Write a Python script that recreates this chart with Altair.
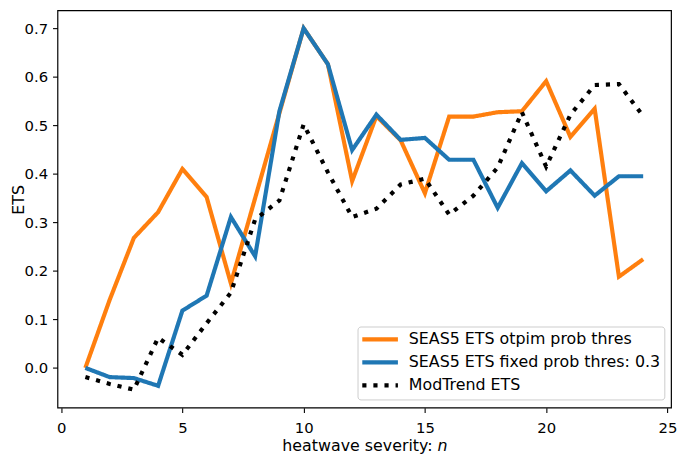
import altair as alt
import pandas as pd

x = list(range(1, 25))
seas5_optim = [0.0, 0.14, 0.268, 0.321, 0.41, 0.352, 0.174, 0.35, 0.525, 0.70, 0.626, 0.385,
               0.519, 0.469, 0.36, 0.518, 0.518, 0.527, 0.529, 0.591, 0.476, 0.534, 0.188, 0.224]
seas5_fixed = [0.0, -0.019, -0.021, -0.037, 0.118, 0.149, 0.311, 0.23, 0.529, 0.70, 0.626, 0.449,
               0.522, 0.47, 0.474, 0.429, 0.429, 0.33, 0.422, 0.364, 0.407, 0.355, 0.395, 0.395]
modtrend = [-0.019, -0.033, -0.045, 0.062, 0.027, 0.092, 0.155, 0.306, 0.345, 0.502, 0.403, 0.311,
            0.328, 0.378, 0.39, 0.316, 0.355, 0.413, 0.527, 0.415, 0.522, 0.583, 0.585, 0.519]

labels = ["SEAS5 ETS otpim prob thres", "SEAS5 ETS fixed prob thres: 0.3", "ModTrend ETS"]
colors = ["#ff7f0e", "#1f77b4", "#000000"]
dashes = [[1, 0], [1, 0], [4.2, 7]]
x_ticks = [0, 5, 10, 15, 20, 25]
y_ticks = [0.0, 0.1, 0.2, 0.3, 0.4, 0.5, 0.6, 0.7]

W, H = 620, 401.5
FONT = "DejaVu Sans"
FS = 16
TICK_FS = 15

xs = alt.Scale(domain=[-0.15, 25.15], nice=False, zero=False)
ys = alt.Scale(domain=[-0.082, 0.737], nice=False, zero=False)

series = [seas5_optim, seas5_fixed, modtrend]
layers = []
for i, vals in enumerate(series):
    df = pd.DataFrame({"n": x, "ets": vals})
    enc_x = alt.X("n:Q", scale=xs,
                  axis=alt.Axis(values=x_ticks, format="d", title=None))
    enc_y = alt.Y("ets:Q", scale=ys,
                  axis=alt.Axis(values=y_ticks, format=".1f", title="ETS",
                                titleX=-39, titleY=191, titleAngle=270,
                                titleAlign="center", titleBaseline="middle"))
    layers.append(
        alt.Chart(df).mark_line(color=colors[i], strokeWidth=4.2, strokeDash=dashes[i],
                                strokeCap="butt")
        .encode(x=enc_x, y=enc_y)
    )

dummy = pd.DataFrame({"a": [0]})

# legend box
layers.append(
    alt.Chart(dummy).mark_rect(fill="white", fillOpacity=0.8, stroke="#cccccc",
                               strokeWidth=1, cornerRadius=3)
    .encode(x=alt.value(303.7), x2=alt.value(613.7), y=alt.value(320), y2=alt.value(393.7))
)
row_y = [332.5, 355.8, 379.0]
for i, lab in enumerate(labels):
    layers.append(
        alt.Chart(dummy).mark_rule(color=colors[i], strokeWidth=4.2, strokeDash=dashes[i],
                                   strokeCap="butt")
        .encode(x=alt.value(308), x2=alt.value(344), y=alt.value(row_y[i]))
    )
    layers.append(
        alt.Chart(dummy).mark_text(text=lab, align="left", baseline="middle",
                                   font=FONT, fontSize=FS, color="black")
        .encode(x=alt.value(355), y=alt.value(row_y[i]))
    )

# x axis title with italic n
layers.append(
    alt.Chart(dummy).mark_text(text="heatwave severity:", align="right", baseline="alphabetic",
                               font=FONT, fontSize=FS, color="black")
    .encode(x=alt.value(379), y=alt.value(445))
)
layers.append(
    alt.Chart(dummy).mark_text(text="n", align="left", baseline="alphabetic",
                               font=FONT, fontSize=FS, fontStyle="italic", color="black")
    .encode(x=alt.value(384), y=alt.value(445))
)

chart = alt.layer(*layers).properties(
    width=W, height=H,
    autosize=alt.AutoSizeParams(type="none"),
    padding={"left": 50, "top": 0, "right": 6, "bottom": 48},
).configure_view(
    stroke="black", strokeWidth=1.2
).configure_axis(
    grid=False, domain=False, tickColor="black", tickWidth=1.1, tickSize=5,
    labelFont=FONT, labelFontSize=TICK_FS, labelColor="black", labelPadding=5,
    titleFont=FONT, titleFontSize=FS, titleColor="black", titleFontWeight="normal"
).configure_axisX(labelPadding=8)

chart.save("out.html", embed_options={"renderer": "svg", "actions": False})
